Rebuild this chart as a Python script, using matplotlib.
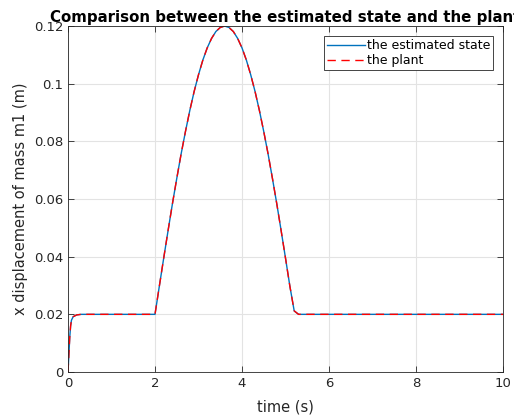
import matplotlib.pyplot as plt
from matplotlib.ticker import FuncFormatter

# time (s) and x displacement (m)
t = [0, 0.02, 0.04, 0.06, 0.08, 0.12, 0.2, 0.3, 1.0, 2.0,
     2.1, 2.2, 2.3, 2.4, 2.5, 2.6, 2.7, 2.8, 2.9, 3.0,
     3.1, 3.2, 3.3, 3.4, 3.5, 3.6, 3.7, 3.8, 3.9, 4.0,
     4.1, 4.2, 4.3, 4.4, 4.5, 4.6, 4.7, 4.8, 4.9, 5.0,
     5.1, 5.2, 5.3, 6.0, 8.0, 10.0]
x_plant = [0, 0.006, 0.012, 0.016, 0.018, 0.0192, 0.0198, 0.02, 0.02, 0.02,
           0.0298, 0.0395, 0.0490, 0.0583, 0.0671, 0.0756, 0.0834, 0.0907, 0.0973, 0.1031,
           0.1082, 0.1124, 0.1157, 0.1181, 0.1195, 0.1200, 0.1195, 0.1181, 0.1157, 0.1124,
           0.1082, 0.1031, 0.0973, 0.0907, 0.0834, 0.0756, 0.0671, 0.0583, 0.0490, 0.0395,
           0.0298, 0.0212, 0.0200, 0.02, 0.02, 0.02]
x_est = [0, 0.006, 0.012, 0.016, 0.018, 0.0192, 0.0198, 0.02, 0.02, 0.02,
         0.0298, 0.0395, 0.0490, 0.0583, 0.0671, 0.0756, 0.0834, 0.0907, 0.0973, 0.1031,
         0.1082, 0.1124, 0.1157, 0.1181, 0.1195, 0.1200, 0.1195, 0.1181, 0.1157, 0.1124,
         0.1082, 0.1031, 0.0973, 0.0907, 0.0834, 0.0756, 0.0671, 0.0583, 0.0490, 0.0395,
         0.0298, 0.0212, 0.0200, 0.02, 0.02, 0.02]

xticks = [0, 2, 4, 6, 8, 10]
yticks = [0, 0.02, 0.04, 0.06, 0.08, 0.1, 0.12]

plt.rcParams['font.family'] = 'DejaVu Sans'
dark = '#262626'

fig = plt.figure(figsize=(5.14, 4.17), dpi=100)
ax = fig.add_axes([0.1323, 0.1079, 0.8463, 0.8297])

ax.plot(t, x_est, color='#0072BD', lw=1.0, label='the estimated state')
ax.plot(t, x_plant, color='#FF0000', lw=1.0, ls=(0, (6, 4)), label='the plant')

ax.set_xlim(0, 10)
ax.set_ylim(0, 0.12)
ax.set_xticks(xticks)
ax.set_yticks(yticks)
ax.xaxis.set_major_formatter(FuncFormatter(lambda v, p: f'{v:g}'))
ax.yaxis.set_major_formatter(FuncFormatter(lambda v, p: f'{v:g}'))
ax.grid(True, color='#e3e3e3', lw=0.8)
ax.set_axisbelow(True)
ax.tick_params(direction='in', top=True, right=True, length=4, width=0.6,
               colors=dark, labelsize=9.5)
for s in ax.spines.values():
    s.set_color(dark)
    s.set_linewidth(0.6)

ax.set_xlabel('time (s)', fontsize=10.5, color=dark, labelpad=7)
ax.set_ylabel('x displacement of mass m1 (m)', fontsize=10.5, color=dark, labelpad=4)
ax.set_title('Comparison between the estimated state and the plant',
             fontsize=10.8, fontweight='bold', pad=3)

leg = ax.legend(loc='upper right', fontsize=9, handlelength=3.0, handletextpad=0.15,
                borderpad=0.25, labelspacing=0.15, fancybox=False, framealpha=1,
                borderaxespad=0.8)
leg.get_frame().set_edgecolor(dark)
leg.get_frame().set_linewidth(0.6)

fig.savefig('out.png', dpi=100)
